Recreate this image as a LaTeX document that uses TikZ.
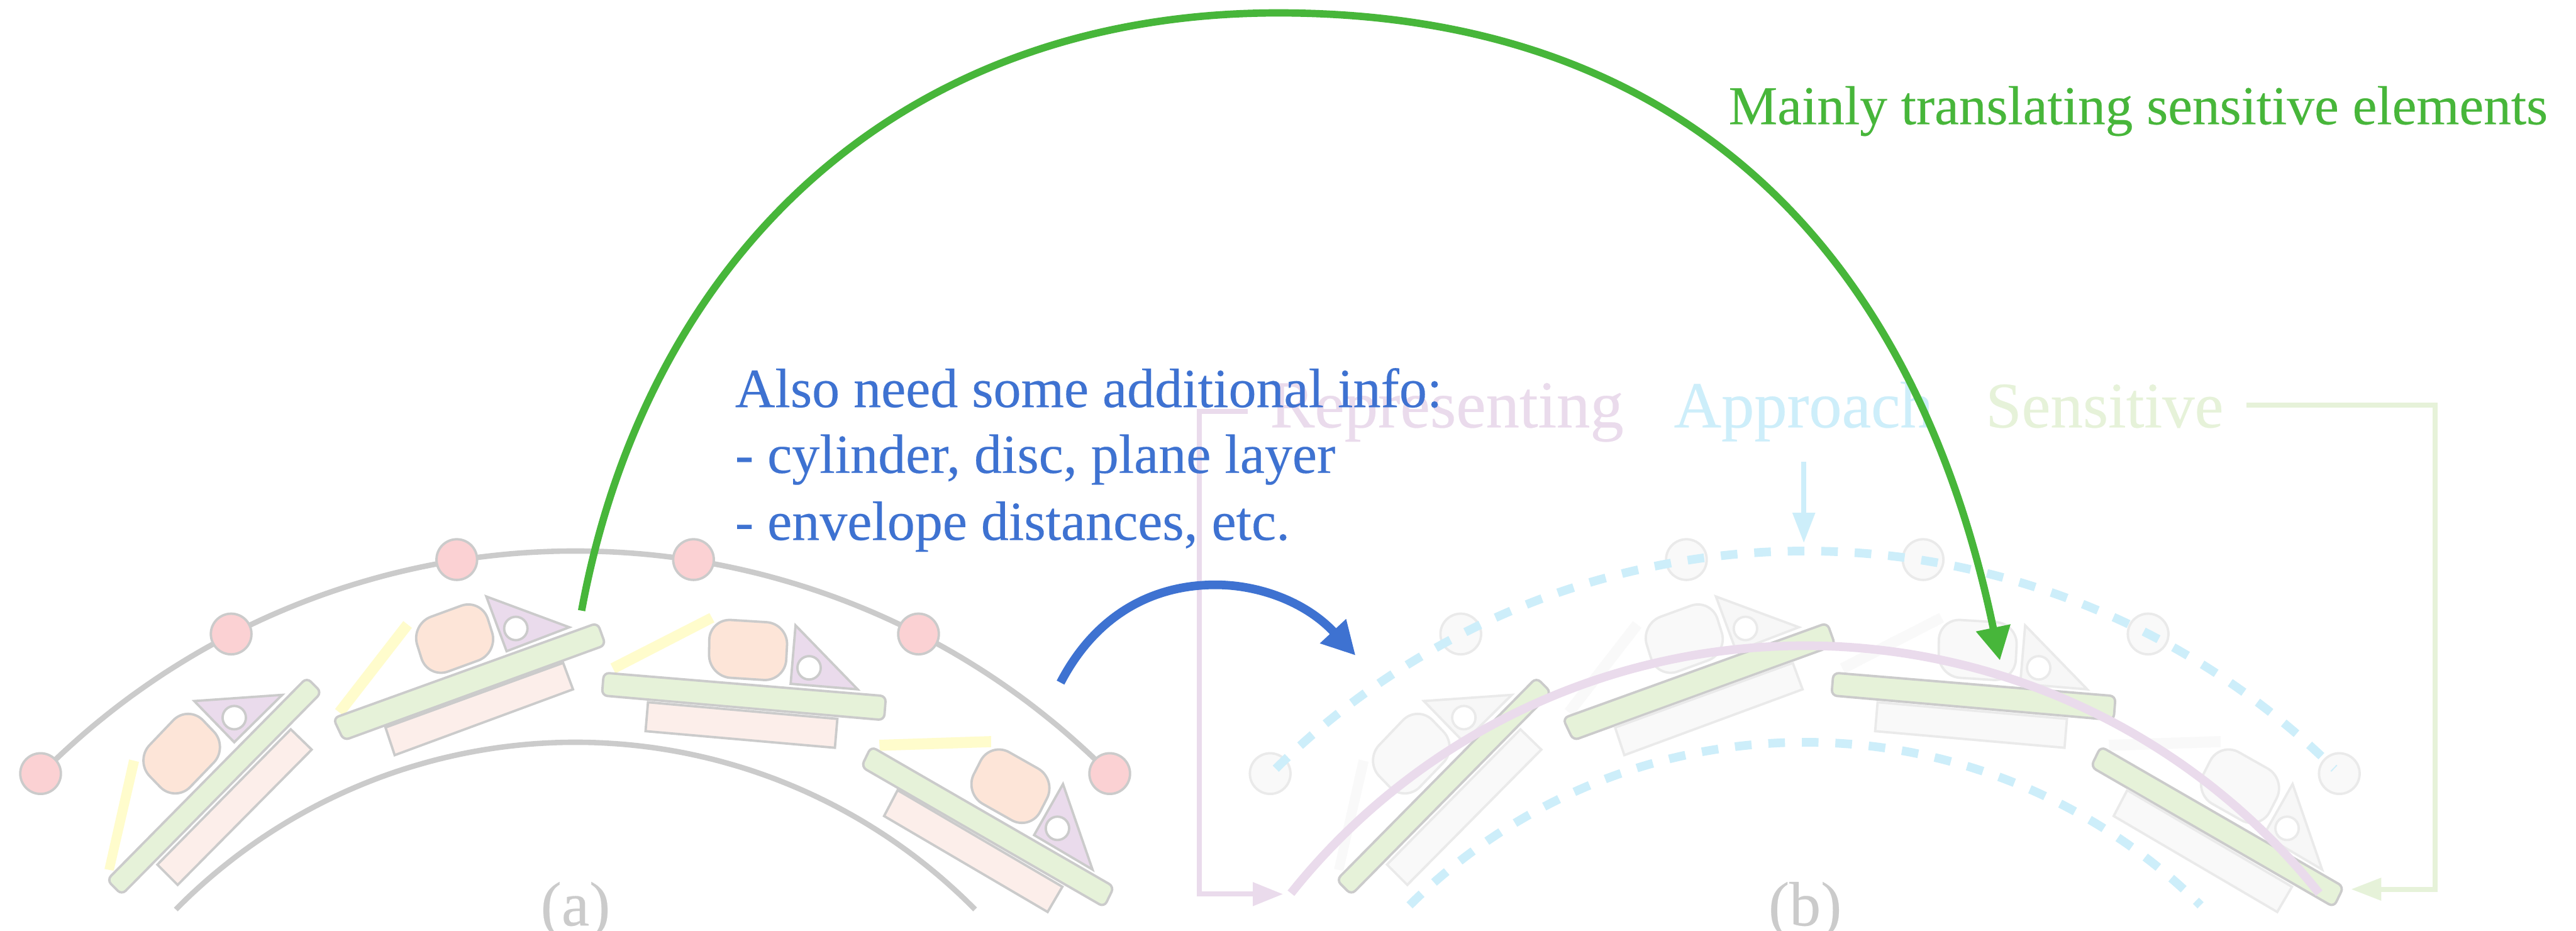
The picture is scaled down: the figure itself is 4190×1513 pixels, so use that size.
\documentclass[tikz,border=0pt]{standalone}
\usepackage{fontspec}
\setmainfont{Liberation Serif}[FakeBold=0.25]
\usetikzlibrary{arrows.meta}
\definecolor{ringC}{HTML}{CBCBCB}
\definecolor{dotF}{HTML}{FBD1D3}
\definecolor{barF}{HTML}{E6F2D9}
\definecolor{plateF}{HTML}{FCEEEA}
\definecolor{chipF}{HTML}{FDE5D8}
\definecolor{triF}{HTML}{EADBEC}
\definecolor{yelF}{HTML}{FFFCCC}
\definecolor{fadeF}{HTML}{F9F9F9}
\definecolor{fadeT}{HTML}{F7F7F7}
\definecolor{fadeD}{HTML}{EAEAEA}
\definecolor{lilac}{HTML}{EADBEC}
\definecolor{skyC}{HTML}{CDEEFA}
\definecolor{senC}{HTML}{E6F2D9}
\definecolor{blueC}{HTML}{3E72D1}
\definecolor{greenC}{HTML}{47B63A}
\newcommand{\fs}[1]{\fontsize{#1}{#1}\selectfont}
\tikzset{
  panelA/.style={
    dotS/.style={circle,minimum size=18.8pt,inner sep=0pt,draw=ringC,fill=dotF,line width=1.1pt},
    barS/.style={draw=ringC,fill=barF,line width=1.1pt,rounded corners=2.6pt},
    plateS/.style={draw=ringC,fill=plateF,line width=1.1pt},
    chipS/.style={draw=ringC,fill=chipF,line width=1.1pt,rounded corners=10pt},
    triS/.style={draw=ringC,fill=triF,line width=1.1pt},
    holeS/.style={circle,minimum size=10.8pt,inner sep=0pt,draw=ringC,fill=white,line width=1.1pt},
    yelS/.style={fill=yelF}},
  panelB/.style={
    dotS/.style={circle,minimum size=18.8pt,inner sep=0pt,draw=fadeD,fill=fadeF,line width=1.1pt},
    barS/.style={draw=ringC,fill=barF,line width=1.1pt,rounded corners=2.6pt},
    plateS/.style={draw=fadeD,fill=fadeF,line width=1.1pt},
    chipS/.style={draw=fadeD,fill=fadeF,line width=1.1pt,rounded corners=10pt},
    triS/.style={draw=fadeD,fill=fadeT,line width=1.1pt},
    holeS/.style={circle,minimum size=10.8pt,inner sep=0pt,draw=fadeD,fill=white,line width=1.1pt},
    yelS/.style={fill=fadeF}},
  ringS/.style={draw=ringC,line width=2.5pt},
  skyS/.style={draw=skyC,line width=4pt,dash pattern=on 7.7pt off 7.8pt},
  lilacS/.style={draw=lilac,line width=4pt},
  connS/.style={line width=2.3pt},
  capS/.style={inner sep=0pt,anchor=base},
  txtS/.style={inner sep=0pt,anchor=base west},
  blueT/.style={txtS,text=blueC,font=\fs{25.6pt}},
  fadeL/.style={txtS,font=\fs{30.4pt}},
}
\newcommand{\arcplot}[4]{plot[domain=-90-#4:-90+#4,samples=120] ({#1+#3*cos(\x)},{#2+#3*sin(\x)})}
\newcommand{\panelbody}[1]{
  \node[dotS] (#1c1) at (66,1258) {};
  \node[dotS] (#1c2) at (376,1031) {};
  \node[dotS] (#1c3) at (743,910) {};
  \node[dotS] (#1c4) at (1128,910) {};
  \node[dotS] (#1c5) at (1494,1031) {};
  \node[dotS] (#1c6) at (1805,1258) {};
  % module 1
  \path[yelS] (210,1235) -- (226,1239) -- (185,1416) -- (170,1413) -- cycle;
  \path[barS] (499,1102) -- (523,1126) -- (198,1455) -- (174,1431) -- cycle;
  \path[plateS] (473,1186) -- (507,1219) -- (289,1439) -- (256,1406) -- cycle;
  \path[chipS] (306,1146) -- (372,1215) -- (285,1305) -- (219,1237) -- cycle;
  \path[triS] (316,1140) -- (459,1130) -- (381,1207) -- cycle;
  \node[holeS] (#1h1) at (381,1167) {};
  % module 2
  \path[yelS] (656,1010) -- (670,1021) -- (559,1164) -- (545,1153) -- cycle;
  \path[barS] (972,1013) -- (985,1049) -- (559,1204) -- (542,1168) -- cycle;
  \path[plateS] (916,1078) -- (932,1121) -- (642,1228) -- (627,1183) -- cycle;
  \path[chipS] (783,973) -- (811,1062) -- (696,1104) -- (668,1015) -- cycle;
  \path[triS] (791,970) -- (926,1020) -- (824,1059) -- cycle;
  \node[holeS] (#1h2) at (839,1022) {};
  % module 3
  \path[yelS] (1154,997) -- (1162,1012) -- (1001,1095) -- (993,1079) -- cycle;
  \path[barS] (982,1094) -- (1441,1132) -- (1438,1171) -- (979,1131) -- cycle;
  \path[plateS] (1054,1142) -- (1362,1169) -- (1358,1216) -- (1050,1189) -- cycle;
  \path[chipS] (1154,1006) -- (1282,1014) -- (1277,1108) -- (1153,1100) -- cycle;
  \path[triS] (1294,1017) -- (1395,1121) -- (1286,1112) -- cycle;
  \node[holeS] (#1h3) at (1316,1086) {};
  % module 4
  \path[yelS] (1430,1203) -- (1612,1197) -- (1612,1215) -- (1431,1221) -- cycle;
  \path[barS] (1417,1214) -- (1812,1442) -- (1796,1475) -- (1401,1247) -- cycle;
  \path[plateS] (1460,1285) -- (1728,1442) -- (1704,1483) -- (1438,1327) -- cycle;
  \path[chipS] (1611,1206) -- (1719,1267) -- (1676,1351) -- (1568,1290) -- cycle;
  \path[triS] (1729,1275) -- (1777,1414) -- (1682,1358) -- cycle;
  \node[holeS] (#1h4) at (1720,1347) {};
}
\begin{document}
\begin{tikzpicture}[x=0.01cm,y=-0.01cm]
\useasboundingbox (0,0) rectangle (4190,1513);
\fill[white] (0,0) rectangle (4190,1513);
% panel (a)
\draw[ringS] \arcplot{936}{2120}{1224}{45.3};
\draw[ringS] \arcplot{936}{2120}{913}{45.4};
\begin{scope}[panelA]
\panelbody{a}
\end{scope}
\node[capS,text=ringC,font=\fs{29pt}] (capA) at (936,1505) {(a)};
% panel (b)
\begin{scope}[panelB,shift={(2000,0)}]
\panelbody{b}
\end{scope}
\node[capS,text=ringC,font=\fs{29pt}] (capB) at (2936,1505) {(b)};
\draw[skyS] \arcplot{2936}{2120}{1224}{44.7};
\draw[skyS] \arcplot{2936}{2120}{913}{44.8};
\draw[lilacS] \arcplot{2936}{2120}{1070}{51.4};
% faded labels
\node[fadeL,text=lilac,font=\fs{31pt}] (labR) at (2065,695) {Representing};
\node[fadeL,text=skyC] (labA) at (2722,695) {Approach};
\node[fadeL,text=senC,font=\fs{30pt}] (labS) at (3229,695) {Sensitive};
\coordinate (rStart) at (2029,669);
\coordinate (rTip) at (2087,1454);
\draw[connS,draw=lilac,-{Triangle[length=14pt,width=10.5pt]}] (rStart) -- (1951,669) -- (1951,1454) -- (rTip);
\coordinate (aStart) at (2934,751);
\coordinate (aTip) at (2934,883);
\draw[connS,draw=skyC,-{Triangle[length=14pt,width=10pt]}] (aStart) -- (aTip);
\coordinate (sStart) at (3654,659);
\coordinate (sTip) at (3824,1446);
\draw[connS,draw=senC,-{Triangle[length=14pt,width=10pt]}] (sStart) -- (3961,659) -- (3961,1446) -- (sTip);
% coloured text and arrows
\node[blueT] (t1) at (1195,662) {Also need some additional info:};
\node[blueT] (t2) at (1195,769) {- cylinder, disc, plane layer};
\node[blueT] (t3) at (1195,878) {- envelope distances, etc.};
\node[txtS,text=greenC,font=\fs{25.4pt}] (t4) at (2811,202) {Mainly translating sensitive elements};
\coordinate (bStart) at (1725,1110);
\coordinate (bTip) at (2205,1066);
\draw[draw=blueC,line width=4pt,-{Triangle[length=15.4pt,width=15.4pt]}] (bStart) .. controls (1785,995) and (1880,951) .. (1977,951) .. controls (2050,951) and (2125,980) .. (bTip);
\coordinate (gStart) at (946,993);
\coordinate (gTop) at (2079,21);
\coordinate (gTip) at (3253,1074);
\draw[draw=greenC,line width=3.4pt,-{Triangle[length=15.4pt,width=15.4pt]}] (gStart) .. controls (1050,430) and (1450,21) .. (gTop) .. controls (2800,21) and (3130,480) .. (gTip);
\end{tikzpicture}
\end{document}
